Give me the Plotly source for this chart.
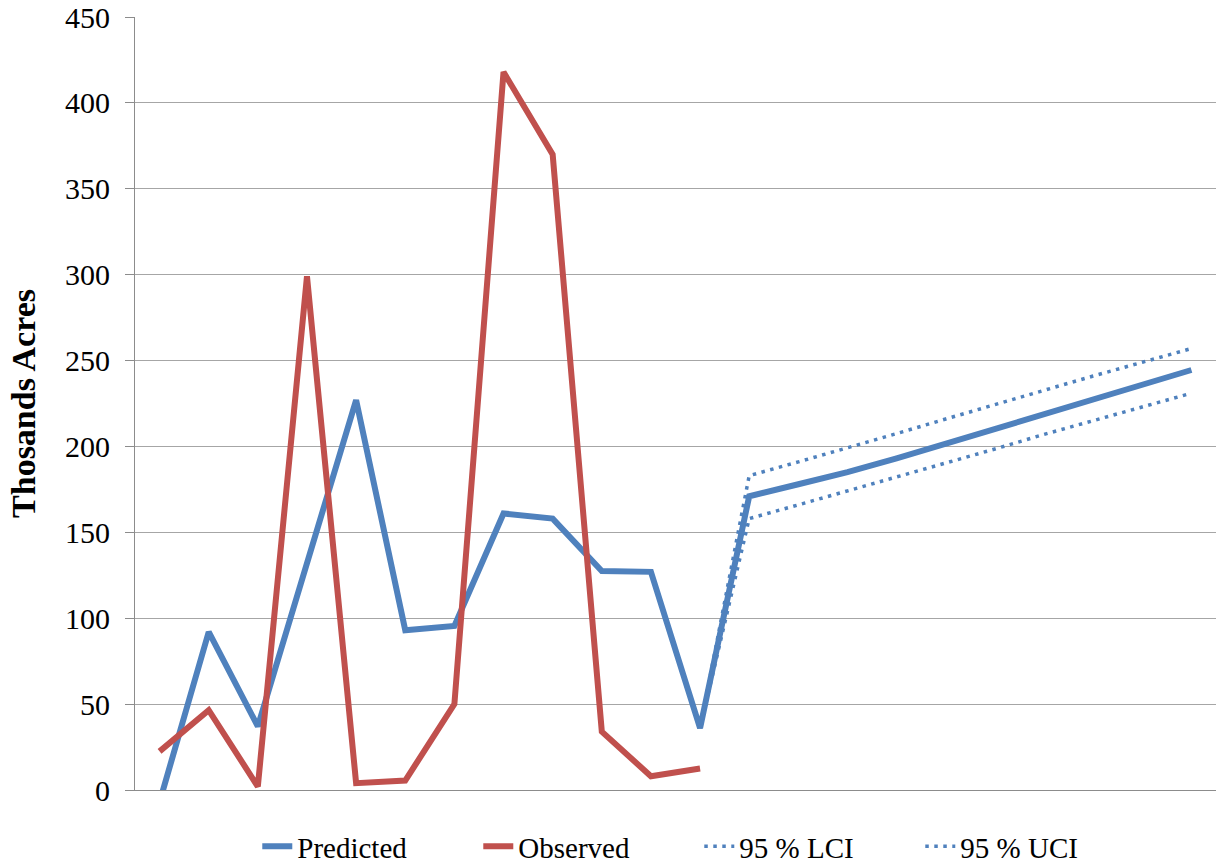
import plotly.graph_objects as go

# 22 unlabeled categories on the x axis
categories = list(range(22))

# Predicted: categories 0..21
predicted = [-7, 92, 37, 132, 227, 93, 95.5, 161, 158, 127.5, 127, 36,
             171, 178, 185, 193, 201.5, 210, 218.5, 227, 235.5, 244.5]
# Observed: categories 0..11
observed = [22.5, 46.5, 2, 299, 4, 5.5, 50, 418, 370, 34, 8, 12.5]
# Confidence interval lines: categories 11..21
lci = [36, 158, 166, 174, 182, 190, 198.5, 207, 215, 223, 231]
uci = [36, 183, 191, 199, 207.5, 216, 224.5, 233, 241, 249, 257]

blue = "#4F81BD"
red = "#C0504D"

fig = go.Figure()
fig.add_trace(go.Scatter(x=categories[:len(predicted)], y=predicted,
                         mode="lines", name="Predicted",
                         line=dict(color=blue, width=6)))
fig.add_trace(go.Scatter(x=categories[:len(observed)], y=observed,
                         mode="lines", name="Observed",
                         line=dict(color=red, width=6)))
ci_x = categories[len(categories) - len(lci):]
fig.add_trace(go.Scatter(x=ci_x, y=lci, mode="lines", name="95 % LCI",
                         line=dict(color=blue, width=3.5, dash="3.5px,5.5px")))
fig.add_trace(go.Scatter(x=ci_x, y=uci, mode="lines", name="95 % UCI",
                         line=dict(color=blue, width=3.5, dash="3.5px,5.5px")))

font_family = "Liberation Serif"
fig.update_layout(
    width=1217, height=868,
    margin=dict(l=135, r=1, t=17, b=78, autoexpand=False),
    paper_bgcolor="white", plot_bgcolor="white",
    font=dict(family=font_family, size=30, color="black"),
    showlegend=True,
    legend=dict(orientation="h", x=0.522, xanchor="center", y=-0.073,
                yanchor="middle", font=dict(size=29), entrywidth=176,
                borderwidth=0, traceorder="normal"),
    xaxis=dict(range=[-0.5, len(categories) - 0.5], showticklabels=False,
               showgrid=False, zeroline=False, showline=True,
               linecolor="#8c8c8c", linewidth=1, ticks="", automargin=False),
    yaxis=dict(range=[0, 450], dtick=50, showgrid=True, gridcolor="#a6a6a6",
               gridwidth=1, zeroline=False, showline=True, linecolor="#8c8c8c",
               linewidth=1, ticks="outside", ticklen=9, tickcolor="#8c8c8c",
               ticklabelstandoff=9, automargin=False,
               tickfont=dict(family=font_family, size=30),
               title=dict(text="<b>Thosands Acres</b>", standoff=19,
                          font=dict(family=font_family, size=34))),
)

fig.write_html("out.html",
               config={"displayModeBar": False},
               post_script="document.body.style.margin='0';"
                           "document.body.style.overflow='hidden';")
